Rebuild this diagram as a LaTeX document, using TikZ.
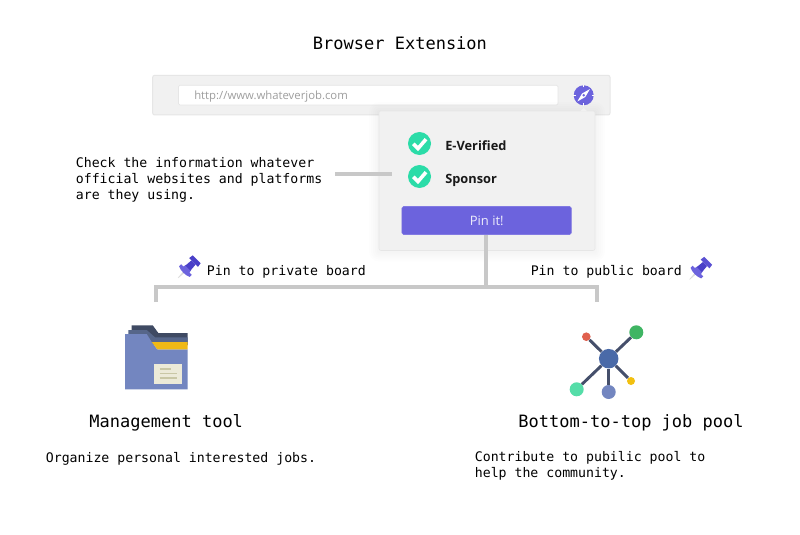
\documentclass[tikz,border=0pt]{standalone}
\usepackage{fontspec}
\setmonofont{DejaVu Sans Mono}
\newfontfamily\osans{Open Sans}
\definecolor{barbg}{HTML}{F1F1F1}
\definecolor{barline}{HTML}{E6E6E6}
\definecolor{conn}{HTML}{C8C8C8}
\definecolor{violet}{HTML}{6C63DD}
\definecolor{pindark}{HTML}{4A40C8}
\definecolor{pinmid}{HTML}{5A50D2}
\definecolor{mint}{HTML}{2BDCA8}
\definecolor{slate}{HTML}{454F6B}
\definecolor{foldA}{HTML}{3F4A63}
\definecolor{foldB}{HTML}{56668A}
\definecolor{foldC}{HTML}{7386C0}
\definecolor{foldY}{HTML}{EFB916}
\definecolor{paper}{HTML}{ECEAD8}
\definecolor{paperl}{HTML}{C9C7A5}
\definecolor{netH}{HTML}{4A6AA8}
\definecolor{netR}{HTML}{E0604E}
\definecolor{netG}{HTML}{3FB563}
\definecolor{netM}{HTML}{55DDA8}
\definecolor{netY}{HTML}{F2C010}
\tikzset{
  mono/.style={font=\ttfamily\fontsize{#1}{#1}\selectfont, inner sep=0pt},
  para/.style={font=\ttfamily\fontsize{9.9}{12}\selectfont, inner sep=0pt, align=left},
  conline/.style={draw=conn, line width=3pt},
  link/.style={draw=slate, line width=2.2pt},
  dot/.style={circle, inner sep=0pt, minimum size=#1*0.75pt},
}
\newcommand{\pinshape}[3]{%
  \begin{scope}[shift={(#1,#2)}, rotate=45, x=.75pt, y=.75pt]
    \fill[black!14] (0,-.3) -- (10,-1) -- (10,1) -- (0,.3) -- cycle;
    \fill[violet] (9,-7.5) -- (12,-7.5) -- (12,7.5) -- (9,7.5) .. controls (7,3.5) and (7,-3.5) .. (9,-7.5) -- cycle;
    \fill[violet] (11,-4.5) -- (15,-3.6) -- (15,3.6) -- (11,4.5) -- cycle;
    \fill[pindark] (14,-3.6) -- (22,-2.9) -- (22,2.9) -- (14,3.6) -- cycle;
    \fill[#3] (22,-6.2) -- (26.5,-5.6) -- (26.5,5.6) -- (22,6.2) -- cycle;
  \end{scope}}
\begin{document}
\begin{tikzpicture}[x=.75pt,y=-.75pt]
\useasboundingbox (0,0) rectangle (800,535);
\fill[white] (0,0) rectangle (800,535);

\node[mono=12.75, anchor=base west] (title) at (312.7,50) {Browser Extension};

% browser bar
\draw[fill=barbg, draw=barline, line width=.75pt, rounded corners=1.5pt] (152.7,75.3) rectangle (610,115);
\draw[fill=white, draw=barline, line width=.6pt, rounded corners=1pt] (178.5,85.3) rectangle (558,105);
\node[font=\osans\fontsize{8.5}{10}\selectfont, text=black!38, inner sep=0pt, anchor=base west] (url) at (194,100) {http://www.whateverjob.com};

% compass
\node[dot=20, fill=violet] (compass) at (583.7,95.3) {};
\foreach \a in {0,90,180,270}
  \draw[white, line width=.5pt] (compass.center) ++(\a:7.8) -- ++(\a:2.6);
\fill[white] (590,89) -- (585.3,97) -- (577.3,101.5) -- (582,93.6) -- cycle;
\fill[violet] (583.7,95.3) circle (1.4);

% popup shadow and body
\foreach \d in {10,8,6,4,2}
  \fill[black, opacity=.007, rounded corners=\d*.75pt] (379-\d,111-\d+1) rectangle (595+\d,250.5+\d+1);
\draw[fill=barbg, draw=barline, line width=.4pt, rounded corners=1.5pt] (379,111) rectangle (595,250.5);
\fill[barbg] (580,111.5) -- (583.7,107.8) -- (587.4,111.5) -- cycle;

% checks
\foreach \n/\y in {c1/143.5,c2/176.5}{
  \node[dot=23, fill=mint] (\n) at (419.5,\y) {};
  \draw[white, line width=2.7pt] (413.3,\y+.3) -- (418,\y+5) -- (426,\y-4.3);
}
\node[font=\osans\bfseries\fontsize{9.6}{11}\selectfont, inner sep=0pt, anchor=base west, text=black!90] (ever) at (445,150) {E-Verified};
\node[font=\osans\bfseries\fontsize{9.6}{11}\selectfont, inner sep=0pt, anchor=base west, text=black!90] (spon) at (445,183) {Sponsor};

% button
\node[draw=violet!85!white, fill=violet, rounded corners=1.2pt, minimum width=169.5*.75pt, minimum height=28*.75pt, inner sep=0pt, font=\osans\fontsize{9.75}{11}\selectfont, text=white!88!violet] (pin) at (486.7,220.5) {Pin it!};

% connectors
\node[para, anchor=west] (check) at (75.6,180) {Check the information whatever\\official websites and platforms\\are they using.};
\coordinate (la) at (335,173.5);
\coordinate (lb) at (392,173.5);
\draw[conline] (la) -- (lb);
\coordinate (j) at (485.5,286.5);
\coordinate (bl) at (155.5,302);
\coordinate (br) at (597,302);
\draw[conline] (pin.south -| j) -- (j);
\draw[conline, line join=miter] (bl) |- (j) -| (br);

% pin labels
\node[mono=9.9, anchor=base west] (priv) at (206.6,275) {Pin to private board};
\node[mono=9.9, anchor=base west] (pub) at (530.5,275) {Pin to public board};
\pinshape{178}{278}{pindark}
\pinshape{689.5}{279.5}{pinmid}

% folder
\fill[foldA] (131.7,325.3) -- (152.7,325.3) -- (158.3,333) -- (187.7,333) -- (187.7,345) -- (131.7,345) -- cycle;
\fill[foldB] (128.3,330) -- (146.7,330) -- (155,337.3) -- (187.7,337.3) -- (187.7,345) -- (128.3,345) -- cycle;
\fill[foldC] (125,334) -- (146.7,334) -- (151.7,342) -- (157.3,349.3) -- (187.7,349.3) -- (187.7,389.3) -- (125,389.3) -- cycle;
\fill[foldY] (151.7,342) -- (187.7,342) -- (187.7,349.3) -- (157.3,349.3) -- cycle;
\fill[paper] (154.3,364.3) rectangle (182.3,384);
\foreach \a/\b/\c in {369/159.5/170.5,373.5/159.5/177,378/159.5/177}
  \draw[paperl, line width=.9pt] (\b,\a) -- (\c,\a);

\node[mono=12.75, anchor=base west] (mgmt) at (89.2,427) {Management tool};
\node[para, anchor=base west] (org) at (45.6,462) {Organize personal interested jobs.};

% network
\node[dot=19.5, fill=netH] (hub) at (608.7,358.7) {};
\node[dot=8.6, fill=netR] (nr) at (586.3,336.7) {};
\node[dot=14, fill=netG] (ng) at (636.3,332.3) {};
\node[dot=14, fill=netM] (nm) at (576.7,389.3) {};
\node[dot=14, fill=foldC] (nb) at (608.7,392) {};
\node[dot=8, fill=netY] (ny) at (631,381) {};
\foreach \n in {nr,ng,nm,nb,ny}
  \draw[link] (hub) -- (\n);

\node[mono=12.75, anchor=base west] (pool) at (518.2,427) {Bottom-to-top job pool};
\node[para, anchor=west] (contrib) at (474.6,465.5) {Contribute to pubilic pool to\\help the community.};
\end{tikzpicture}
\end{document}
